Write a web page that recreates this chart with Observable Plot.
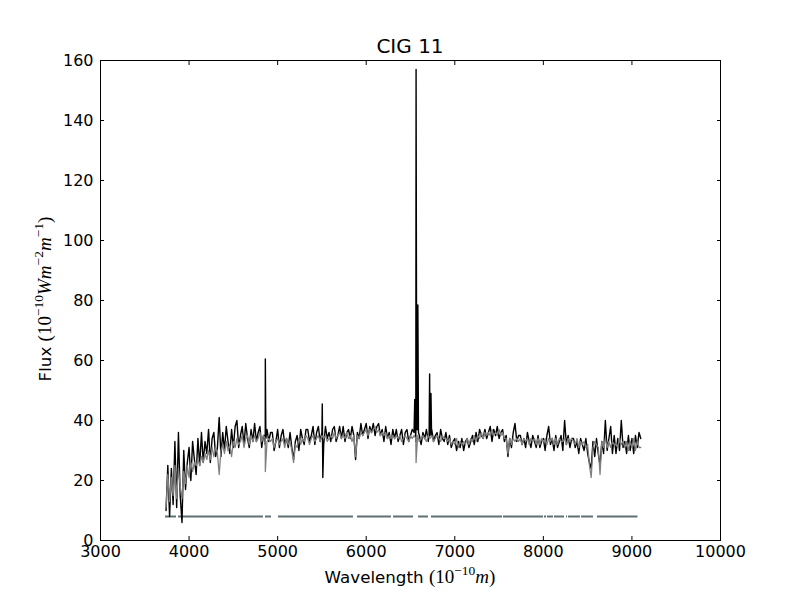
<!DOCTYPE html>
<html><head><meta charset="utf-8">
<script src="https://cdn.jsdelivr.net/npm/d3@7"></script>
<script src="https://cdn.jsdelivr.net/npm/@observablehq/plot@0.6"></script>
<style>body{margin:0;background:#fff}</style>
</head><body><div id="chart"></div>
<script>
const wavelength = [
3740,3760,3780,3800,3820,3840,3860,3880,3900,3920,
3940,3960,3980,4000,4020,4040,4060,4080,4100,4120,
4140,4160,4180,4200,4220,4240,4260,4280,4300,4320,
4340,4360,4380,4400,4420,4440,4460,4480,4500,4520,
4540,4560,4580,4600,4620,4640,4660,4680,4700,4720,
4740,4760,4780,4800,4820,4840,4860,4880,4900,4920,
4940,4960,4980,5000,5020,5040,5060,5080,5100,5120,
5140,5160,5180,5200,5220,5240,5260,5280,5300,5320,
5340,5360,5380,5400,5420,5440,5460,5480,5500,5520,
5540,5560,5580,5600,5620,5640,5660,5680,5700,5720,
5740,5760,5780,5800,5820,5840,5860,5880,5900,5920,
5940,5960,5980,6000,6020,6040,6060,6080,6100,6120,
6140,6160,6180,6200,6220,6240,6260,6280,6300,6320,
6340,6360,6380,6400,6420,6440,6460,6480,6500,6520,
6540,6560,6580,6600,6620,6640,6660,6680,6700,6720,
6740,6760,6780,6800,6820,6840,6860,6880,6900,6920,
6940,6960,6980,7000,7020,7040,7060,7080,7100,7120,
7140,7160,7180,7200,7220,7240,7260,7280,7300,7320,
7340,7360,7380,7400,7420,7440,7460,7480,7500,7520,
7540,7560,7580,7600,7620,7640,7660,7680,7700,7720,
7740,7760,7780,7800,7820,7840,7860,7880,7900,7920,
7940,7960,7980,8000,8020,8040,8060,8080,8100,8120,
8140,8160,8180,8200,8220,8240,8260,8280,8300,8320,
8340,8360,8380,8400,8420,8440,8460,8480,8500,8520,
8540,8560,8580,8600,8620,8640,8660,8680,8700,8720,
8740,8760,8780,8800,8820,8840,8860,8880,8900,8920,
8940,8960,8980,9000,9020,9040,9060,9080,9100];

const observedFlux = [
10,25,8,24,12,33,11,36,15,6,
30,17,26,31,20,33,27,22,34,25,
36,26,33,29,37,26,34,36,28,31,
41,28,36,30,38,33,29,37,31,38,
40,31,35,38,32,39,34,31,37,33,
39,33,36,38,31,35,32,37,33,36,
36,30,33,37,31,35,37,32,34,31,
36,31,27,33,35,30,37,34,32,37,
37,33,35,38,32,36,38,33,36,32,
38,34,36,33,37,38,33,35,38,34,
38,33,36,37,34,38,35,27,36,34,
39,35,37,39,34,38,36,39,35,38,
39,35,37,33,38,34,36,32,37,34,
37,33,35,37,32,36,37,33,35,37,
36,33,37,35,32,36,34,37,33,35,
37,33,35,36,32,37,34,33,36,32,
35,31,33,34,30,33,31,34,30,33,
34,31,33,35,32,36,33,37,35,34,
37,34,36,38,33,37,35,38,34,36,
37,33,35,28,34,31,36,39,33,35,
35,32,34,31,36,33,31,35,33,31,
35,31,33,34,30,35,38,32,34,30,
35,31,33,35,30,40,32,35,31,34,
34,31,33,29,34,32,30,34,29,26,
24,33,28,34,29,25,33,29,40,30,
34,38,29,35,29,34,30,40,31,33,
29,35,30,34,29,35,31,36,34];

const modelFlux = [
11,22,13,21,15,25,14,24,18,14,
23,19,25,21,26,23,26,25,27,25,
28,26,29,27,30,27,31,28,31,29,
22,30,32,29,33,30,32,28,33,31,
34,32,33,35,31,34,35,32,35,33,
35,33,34,36,33,35,34,33,34,33,
34,31,33,34,32,33,34,31,34,32,
33,30,26,32,31,34,32,34,33,35,
34,32,34,35,33,34,35,33,35,34,
35,33,34,35,34,36,34,35,36,34,
35,34,36,34,35,33,35,28,35,34,
36,35,36,37,35,37,36,37,38,36,
37,35,36,35,36,34,35,34,35,34,
35,34,35,33,34,35,34,33,35,34,
35,34,35,33,34,35,34,33,35,34,
35,33,34,35,34,33,35,34,34,33,
34,32,33,32,34,31,33,32,33,32,
34,32,34,33,35,33,35,34,36,34,
36,35,36,35,37,35,36,35,37,35,
36,34,34,29,34,32,34,33,34,33,
34,32,34,33,34,32,34,33,34,32,
34,32,34,33,34,32,34,33,34,32,
34,32,34,33,33,34,32,34,33,34,
33,32,34,31,33,32,33,31,32,25,
21,31,33,32,31,22,33,31,34,31,
33,31,33,32,32,31,34,32,33,31,
33,30,33,31,34,30,33,31,31];

// emission lines / spikes in the observed spectrum
const lineWave = [4855,4861,4867,5504,5510,6548,6556,6563,6570,6583,6590,6710,6716,6722,6731,6738];
const lineFlux = [35,60.5,34,45.5,21,47,36,157,37,78.5,36,35,55.5,36,49,35];
// absorption dips in the model spectrum
const dipWave = [4861,6563];
const dipFlux = [23,26];

// masked-region segments drawn at flux = 8
const maskStart = [3734,3881,4863,5010,5902,6308,6590,6737,7550,8013,8047,8126,8261,8284,8431,8611];
const maskEnd   = [3858,4840,4931,5856,6285,6534,6703,7539,8002,8036,8115,8239,8273,8419,8566,9068];
const maskLevel = 8;

const xTicks = [3000,4000,5000,6000,7000,8000,9000,10000];
const yTicks = [0,20,40,60,80,100,120,140,160];

const observed = wavelength.map((w,i)=>({w, f: observedFlux[i]}))
  .concat(lineWave.map((w,i)=>({w, f: lineFlux[i]})))
  .sort((a,b)=>a.w-b.w);
const model = wavelength.map((w,i)=>({w, f: modelFlux[i]}))
  .concat(dipWave.map((w,i)=>({w, f: dipFlux[i]})))
  .sort((a,b)=>a.w-b.w);
const mask = maskStart.map((s,i)=>({s, e: maskEnd[i], y: maskLevel}));

const svg = Plot.plot({
  width: 800, height: 600,
  marginLeft: 100, marginRight: 80, marginTop: 60, marginBottom: 60,
  style: {fontFamily: "DejaVu Sans", fontSize: "16px", color: "black", background: "white"},
  x: {domain: [3000,10000]},
  y: {domain: [0,160]},
  marks: [
    Plot.ruleY(mask, {x1: "s", x2: "e", y: "y", stroke: "#5f7070", strokeWidth: 2}),
    Plot.line(observed, {x: "w", y: "f", stroke: "black", strokeWidth: 1.4}),
    Plot.line(model, {x: "w", y: "f", stroke: "#808080", strokeWidth: 1.3}),
    Plot.frame({stroke: "black", strokeWidth: 1}),
    Plot.axisX({anchor: "bottom", ticks: xTicks, tickSize: -4, tickPadding: 9, tickFormat: d=>String(d), label: null}),
    Plot.axisX({anchor: "top", ticks: xTicks, tickSize: -4, tickFormat: () => "", label: null}),
    Plot.axisY({anchor: "left", ticks: yTicks, tickSize: -4, tickPadding: 11, tickFormat: d=>String(d), label: null}),
    Plot.axisY({anchor: "right", ticks: yTicks, tickSize: -4, tickFormat: () => "", label: null})
  ]
});
document.getElementById("chart").appendChild(svg);

const s = d3.select(svg);
const sans = "DejaVu Sans", serif = "Liberation Serif";
function richText(parent, parts) {
  parts.forEach(p => {
    parent.append("tspan")
      .attr("font-family", p.font || sans)
      .attr("font-style", p.italic ? "italic" : "normal")
      .attr("font-size", p.size || 16.7)
      .attr("dy", p.dy || 0)
      .text(p.t);
  });
}
s.append("text").attr("x", 410).attr("y", 53).attr("text-anchor", "middle")
  .attr("font-family", sans).attr("font-size", 20).attr("fill", "black").text("CIG 11");

const xl = s.append("text").attr("x", 410).attr("y", 583).attr("text-anchor", "middle").attr("fill", "black");
richText(xl, [
  {t: "Wavelength "},
  {t: "(10", font: serif, size: 19},
  {t: "−10", font: serif, size: 13.5, dy: -8},
  {t: "m", font: serif, italic: true, size: 19, dy: 8},
  {t: ")", font: serif, size: 19}
]);

const yl = s.append("text").attr("transform", "translate(51,299) rotate(-90)").attr("text-anchor", "middle").attr("fill", "black");
richText(yl, [
  {t: "Flux "},
  {t: "(10", font: serif, size: 19},
  {t: "−10", font: serif, size: 13.5, dy: -8},
  {t: "Wm", font: serif, italic: true, size: 19, dy: 8},
  {t: "−2", font: serif, size: 13.5, dy: -8},
  {t: "m", font: serif, italic: true, size: 19, dy: 8},
  {t: "−1", font: serif, size: 13.5, dy: -8},
  {t: ")", font: serif, size: 19, dy: 8}
]);
</script>
</body></html>
